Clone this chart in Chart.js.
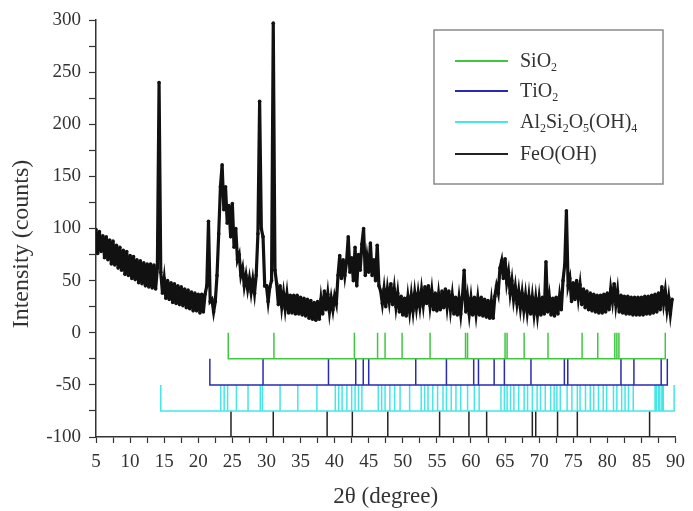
<!DOCTYPE html>
<html>
<head>
<meta charset="utf-8">
<script src="https://cdn.jsdelivr.net/npm/chart.js@4.4.1/dist/chart.umd.min.js"></script>
<style>
  html, body { margin: 0; padding: 0; background: #fff; }
  #wrap { width: 693px; height: 511px; }
</style>
</head>
<body>
<div id="wrap"><canvas id="xrdChart"></canvas></div>
<script>
// measured pattern, one reading every 0.25 degree starting at 5
const scanStart = 5;
const scanStep = 0.25;
const intensity = [
  99, 76, 97, 78,   93, 72, 92, 70,   89, 66, 88, 65,   84, 62, 82, 60,   79, 56, 78, 55,
  74, 52, 73, 51,   70, 48, 69, 47,   67, 45, 66, 44,   66, 43, 65, 42,   62, 240, 58, 38,
  52, 33, 50, 32,   48, 29, 47, 28,   45, 27, 44, 26,   42, 24, 41, 23,   39, 21, 38, 21,
  37, 19, 37, 20,   37, 45, 107, 30,  32, 20, 30, 55,   95, 140, 161, 118, 140, 105, 122, 92,
  124, 82, 100, 70, 75, 55, 62, 45,   55, 42, 52, 39,   51, 38, 55, 95,   222, 100, 92, 45,
  45, 30, 44, 50,   297, 60, 47, 27,  45, 25, 38, 23,   37, 19, 36, 19,   36, 18, 36, 18,
  34, 17, 33, 16,   32, 14, 31, 13,   29, 12, 30, 13,   32, 18, 40, 22,   37, 20, 33, 22,
  35, 28, 55, 74,   52, 70, 55, 68,   92, 58, 72, 50,   82, 45, 75, 60,   85, 100, 55, 72,
  58, 86, 55, 70,   50, 84, 45, 40,   28, 42, 25, 42,   30, 47, 27, 42,   25, 38, 20, 35,
  17, 33, 16, 34,   20, 36, 21, 38,   24, 38, 25, 41,   27, 44, 28, 45,   26, 40, 22, 38,
  21, 37, 22, 40,   24, 42, 25, 40,   22, 36, 18, 34,   17, 33, 18, 35,   60, 20, 34, 18,
  33, 17, 34, 18,   33, 17, 34, 16,   32, 15, 31, 14,   30, 14, 35, 45,   38, 62, 69, 52,
  71, 48, 58, 38,   50, 32, 44, 28,   40, 24, 38, 22,   36, 20, 35, 18,   34, 18, 33, 17,
  33, 17, 34, 18,   68, 20, 34, 17,   33, 16, 34, 18,   35, 22, 50, 65,   117, 45, 52, 30,
  48, 32, 50, 33,   46, 27, 42, 24,   40, 22, 38, 21,   37, 20, 36, 19,   36, 19, 37, 20,
  38, 22, 42, 30,   47, 27, 40, 20,   36, 19, 35, 18,   35, 18, 34, 17,   34, 17, 34, 17,
  34, 17, 35, 18,   35, 18, 36, 19,   37, 20, 38, 22,   44, 28, 40, 22,   34, 18, 32
];

// reference peak positions (2theta) of each phase
const sio2Peaks = [24.4, 31.1, 42.9, 46.3, 47.4, 49.9, 54.0, 59.2, 59.5, 65.0, 65.3, 67.8,
  71.3, 76.3, 78.6, 81.1, 81.4, 81.7, 88.5];
const tio2Peaks = [21.7, 29.5, 39.1, 43.1, 44.2, 45.0, 51.9, 56.4, 60.4, 61.1, 63.4, 64.9,
  68.8, 73.7, 74.2, 82.0, 83.9, 87.9, 88.8];
const kaolinitePeaks = [14.5, 23.3, 23.8, 24.3, 25.6, 27.3, 29.1, 29.4, 32.0, 34.6, 37.4,
  40.1, 40.6, 41.1, 41.8, 42.5, 43.0, 43.5, 44.0, 46.4, 46.9, 47.4, 48.1, 48.8, 49.6, 51.0,
  52.7, 53.2, 53.7, 54.4, 55.1, 55.9, 56.4, 57.1, 57.8, 58.5, 59.5, 60.5, 61.2, 64.4, 64.9,
  65.3, 65.8, 66.3, 67.0, 67.8, 68.3, 69.0, 69.7, 70.2, 70.9, 71.7, 72.2, 72.6, 73.1, 74.1,
  74.8, 75.6, 76.0, 76.8, 77.5, 78.0, 78.7, 79.4, 79.9, 80.9, 81.4, 82.1, 82.6, 83.1, 83.8,
  87.0, 87.2, 87.5, 87.7, 88.0, 88.2, 89.8];
const feoohPeaks = [24.8, 31.0, 38.9, 42.6, 47.8, 55.4, 59.7, 62.3, 69.0, 69.5, 72.7, 75.6, 86.2];

const phaseNames = ['SiO2', 'TiO2', 'Al2Si2O5(OH)4', 'FeO(OH)'];
const phaseBase = [-25, -50, -75, -100];
const xTickLabels = [5, 10, 15, 20, 25, 30, 35, 40, 45, 50, 55, 60, 65, 70, 75, 80, 85, 90];
const yTickLabels = [-100, -50, 0, 50, 100, 150, 200, 250, 300];

const phaseColors = ['#3fc83f', '#2a2ab4', '#45e6e6', '#222222'];
const serif = "'Liberation Serif', 'Times New Roman', serif";

function comb(peaks, base) {
  const pts = [];
  peaks.forEach(function (p) {
    pts.push({ x: p, y: base }, { x: p, y: base + 25 }, { x: p, y: base });
  });
  return pts;
}

const patternPoints = intensity.map(function (v, i) {
  return { x: scanStart + i * scanStep, y: v };
});

// draw chemical formulas with subscript digits
function drawFormula(ctx, text, x, y, size) {
  let cx = x;
  for (const ch of text) {
    const sub = ch >= '0' && ch <= '9';
    ctx.font = (sub ? Math.round(size * 0.62) : size) + 'px ' + serif;
    ctx.fillText(ch, cx, sub ? y + size * 0.28 : y);
    cx += ctx.measureText(ch).width;
  }
}

const legendBox = {
  id: 'legendBox',
  afterDraw: function (chart) {
    const ctx = chart.ctx;
    ctx.save();
    ctx.strokeStyle = '#8a8a8a';
    ctx.lineWidth = 1.5;
    ctx.strokeRect(434, 30, 229, 154);
    const rows = [61, 91, 122, 154];
    ctx.textBaseline = 'middle';
    ctx.fillStyle = '#333';
    phaseNames.forEach(function (name, i) {
      ctx.strokeStyle = phaseColors[i];
      ctx.lineWidth = 2;
      ctx.beginPath();
      ctx.moveTo(455, rows[i]);
      ctx.lineTo(508, rows[i]);
      ctx.stroke();
      drawFormula(ctx, name, 520, rows[i] + 1, 20);
    });

    // y axis title, a bit below the centre of the plot as in the original
    ctx.translate(22, 244);
    ctx.rotate(-Math.PI / 2);
    ctx.textAlign = 'center';
    ctx.font = '24px ' + serif;
    ctx.fillText('Intensity (counts)', 0, 0);
    ctx.restore();
  }
};

const stickSets = [sio2Peaks, tio2Peaks, kaolinitePeaks, feoohPeaks];
const datasets = stickSets.map(function (peaks, i) {
  return {
    label: phaseNames[i],
    data: comb(peaks, phaseBase[i]),
    borderColor: phaseColors[i],
    borderWidth: 1.5,
    pointRadius: 0,
    tension: 0
  };
});
datasets.push({
  label: 'pattern',
  data: patternPoints,
  borderColor: '#111',
  borderWidth: 3.2,
  pointRadius: 1.8,
  pointBackgroundColor: '#111',
  pointBorderWidth: 0,
  tension: 0
});

new Chart(document.getElementById('xrdChart'), {
  type: 'line',
  data: { datasets: datasets },
  options: {
    responsive: true,
    maintainAspectRatio: false,
    animation: false,
    layout: { padding: { top: 20, right: 14 } },
    plugins: { legend: { display: false }, tooltip: { enabled: false } },
    scales: {
      x: {
        type: 'linear',
        min: 5,
        max: 90,
        afterFit: function (s) { s.height = 74; },
        ticks: {
          stepSize: 2.5,
          autoSkip: false,
          maxRotation: 0,
          padding: 8,
          color: '#333',
          font: { family: serif, size: 19 },
          callback: function (v) { return xTickLabels.includes(v) ? String(v) : ''; }
        },
        grid: { drawOnChartArea: false, tickLength: 6, tickColor: '#333', tickWidth: 1.2 },
        border: { color: '#333', width: 1.5 },
        title: {
          display: true,
          text: '2θ (degree)',
          color: '#333',
          font: { family: serif, size: 23 },
          padding: { top: 0, bottom: 0 }
        }
      },
      y: {
        min: -100,
        max: 300,
        afterFit: function (s) { s.width = 96; },
        ticks: {
          stepSize: 25,
          autoSkip: false,
          padding: 8,
          color: '#333',
          font: { family: serif, size: 19 },
          callback: function (v) { return yTickLabels.includes(v) ? String(v) : ''; }
        },
        grid: { drawOnChartArea: false, tickLength: 7, tickColor: '#333', tickWidth: 1.2 },
        border: { color: '#333', width: 1.5 },
        title: { display: false }
      }
    }
  },
  plugins: [legendBox]
});
</script>
</body>
</html>
